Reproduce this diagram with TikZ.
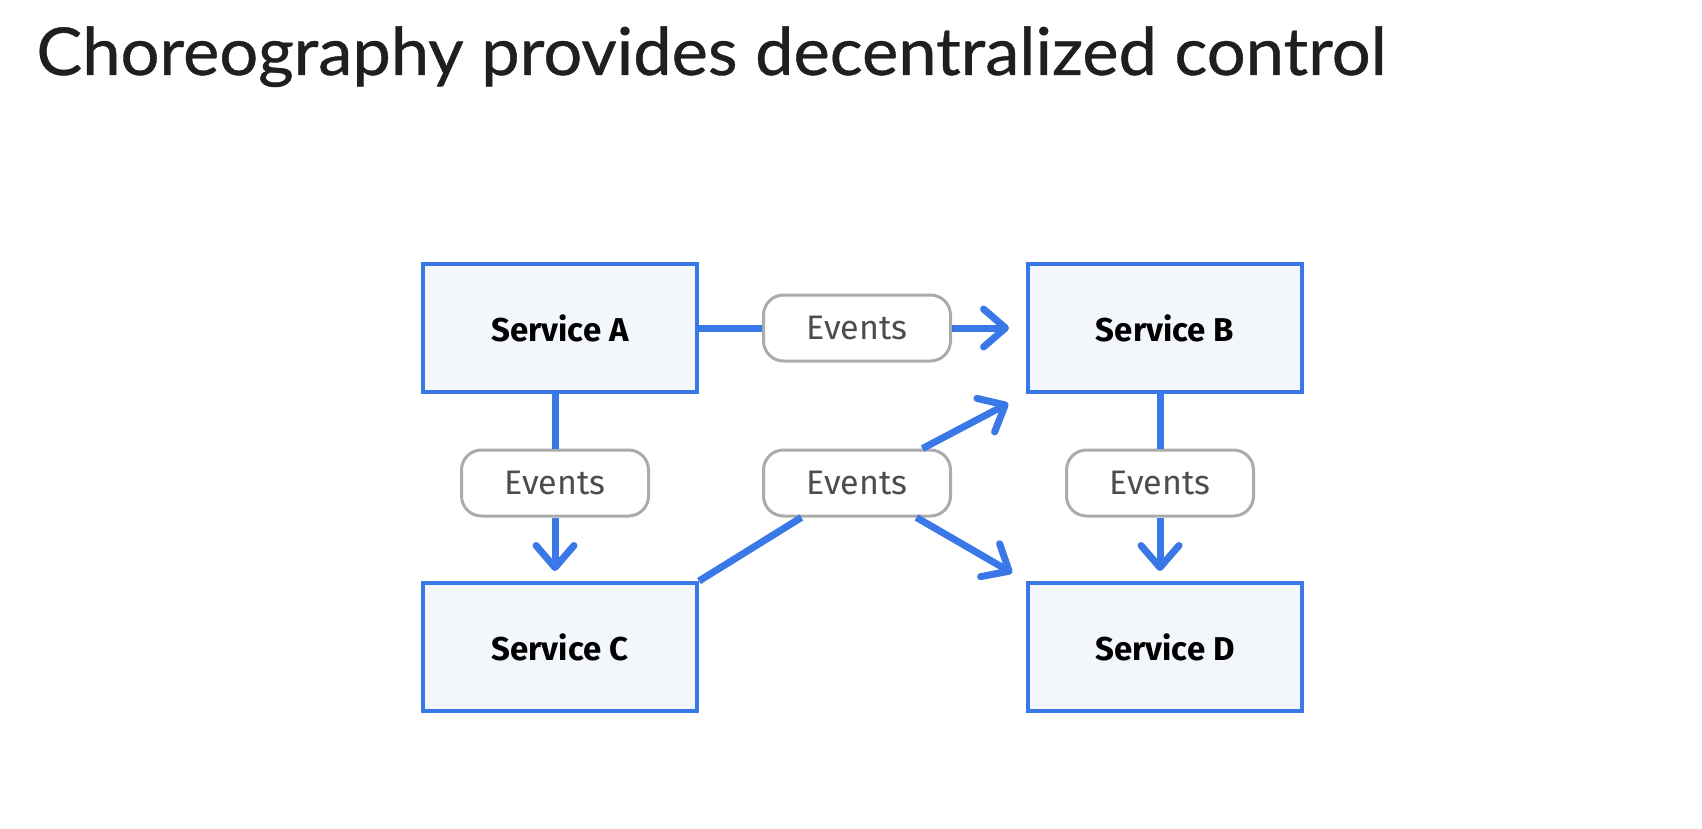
\documentclass[tikz,border=0pt]{standalone}
\usepackage{fontspec}
\setmainfont{Lato}
\newfontfamily\titlefont[FakeBold=0.6]{Lato}
\newfontfamily\labelfont{Fira Sans}
\usetikzlibrary{arrows.meta}
\definecolor{gblue}{HTML}{3B78E7}
\definecolor{boxfill}{HTML}{F3F7FC}
\definecolor{evgray}{HTML}{ABABAB}
\definecolor{evtext}{HTML}{4D4D4D}
\definecolor{titlecol}{HTML}{1F1F1F}
\begin{document}
\begin{tikzpicture}[x=0.5pt,y=-0.5pt,
  svc/.style={draw=gblue, line width=2pt, fill=boxfill, minimum width=137pt, minimum height=64pt, inner sep=0pt, font=\labelfont\bfseries\fontsize{16.5}{16.5}\selectfont, text=black},
  ev/.style={draw=evgray, line width=1.5pt, fill=white, rounded corners=10pt, minimum width=93.5pt, minimum height=33pt, inner sep=0pt, font=\labelfont\fontsize{17}{17}\selectfont, text=evtext},
  conn/.style={draw=gblue, line width=3.5pt},
  arr/.style={conn, -{Straight Barb[length=11pt,width=19pt,line cap=round,line join=round]}}
]
\useasboundingbox (0,0) rectangle (1702,829);
\fill[white] (0,0) rectangle (1702,829);
\node[anchor=base west, inner sep=0pt, font=\titlefont\fontsize{33}{33}\selectfont, text=titlecol, xscale=1.04] (title) at (36,75) {Choreography provides decentralized control};
\node[svc] (A) at (560,328) {Service A};
\node[svc] (B) at (1165,328) {Service B};
\node[svc] (C) at (560,647) {Service C};
\node[svc] (D) at (1165,647) {Service D};
\node[ev] (evAB) at (857,328) {Events};
\node[ev] (evAC) at (555,483) {Events};
\node[ev] (evM) at (857,483) {Events};
\node[ev] (evBD) at (1160,483) {Events};
\draw[conn] (A.east) -- (evAB.west);
\draw[arr, shorten >=8.5pt] (evAB.east) -- (B.west);
\draw[conn] (A.south -| evAC) -- (evAC.north);
\draw[arr, shorten >=5pt] (evAC.south) -- (evAC.south |- C.north);
\draw[conn] (C.north east) -- (evM);
\draw[arr, shorten >=10pt] (evM) -- (B.south west);
\draw[arr, shorten >=8pt] (evM) -- (D.north west);
\draw[conn] (B.south -| evBD) -- (evBD.north);
\draw[arr, shorten >=5pt] (evBD.south) -- (evBD.south |- D.north);
\end{tikzpicture}
\end{document}
